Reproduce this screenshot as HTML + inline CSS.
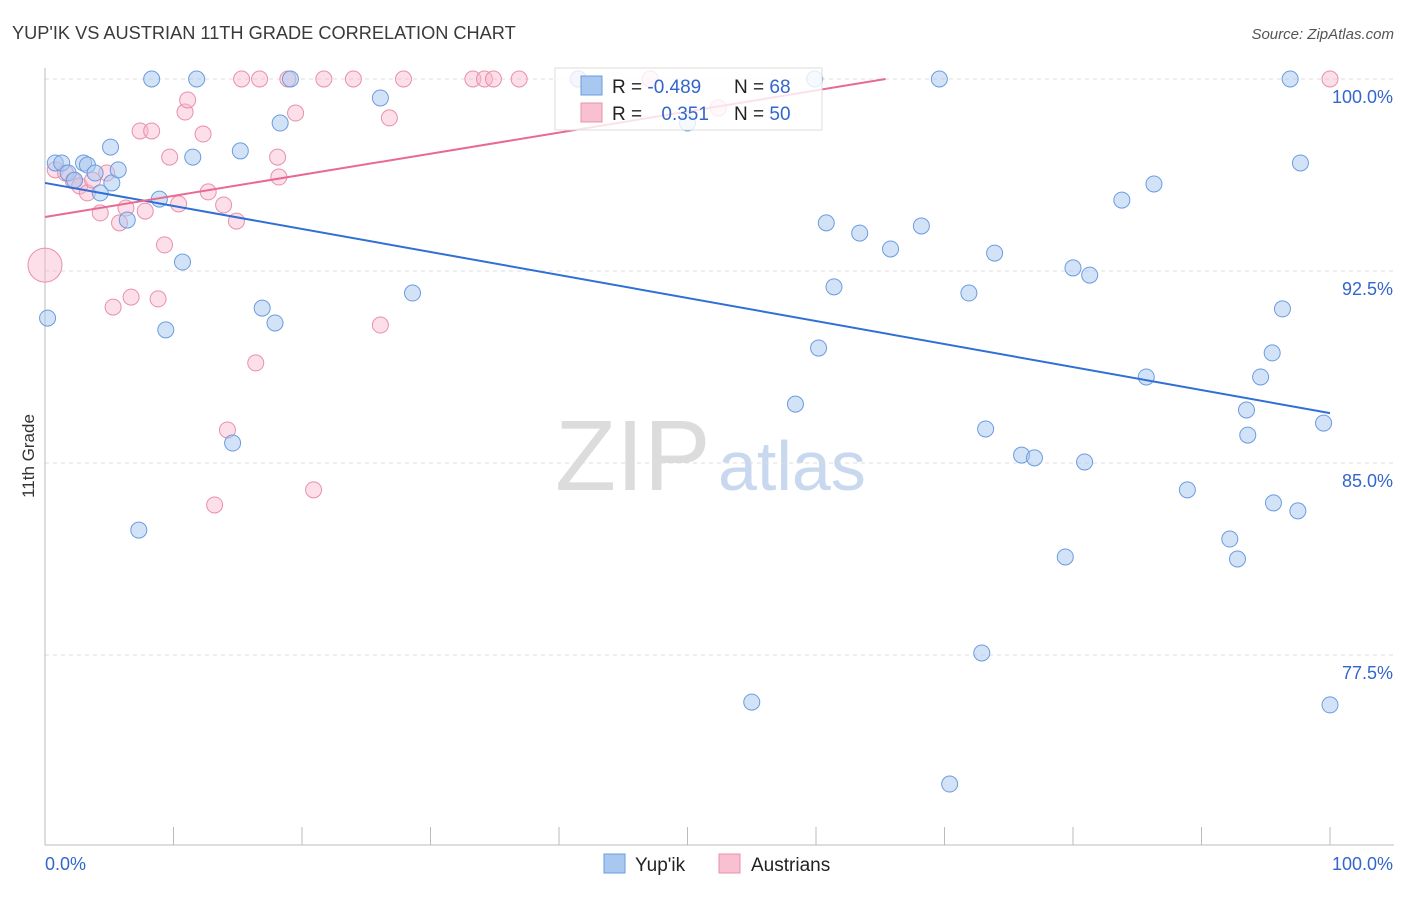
<!DOCTYPE html>
<html><head><meta charset="utf-8"><style>
body{margin:0;background:#fff;font-family:"Liberation Sans",sans-serif;}
svg text{font-family:"Liberation Sans",sans-serif;}
</style></head><body>
<svg id="c" width="1406" height="892">
<text x="12" y="39" font-size="18.2" fill="#3a3a3a">YUP'IK VS AUSTRIAN 11TH GRADE CORRELATION CHART</text>
<text x="1394" y="39" font-size="15" fill="#555" text-anchor="end" font-style="italic">Source: ZipAtlas.com</text>
<text x="34" y="456" font-size="17" fill="#333" transform="rotate(-90 34 456)" text-anchor="middle">11th Grade</text>
<text x="555" y="490" font-size="100" fill="#dcdcdc" font-family="Liberation Serif">ZIP</text>
<text x="718" y="490" font-size="70" fill="#c8d8ef">atlas</text>
<g id="grid"></g><g id="pts"></g><g id="lines"></g>
<g>
<rect x="555" y="68" width="267" height="62" fill="#fff" fill-opacity="0.8" stroke="#ddd"/>
<rect x="581" y="76" width="21" height="19" fill="#a8c8f0" stroke="#6b9be0"/>
<rect x="581" y="103" width="21" height="19" fill="#f8c0d0" stroke="#e890aa"/>
<text x="612" y="93" font-size="19" fill="#222">R = <tspan fill="#3366cc">-0.489</tspan></text>
<text x="734" y="93" font-size="19" fill="#222">N = <tspan fill="#3366cc">68</tspan></text>
<text x="612" y="120" font-size="19" fill="#222">R = <tspan fill="#3366cc" dx="14">0.351</tspan></text>
<text x="734" y="120" font-size="19" fill="#222">N = <tspan fill="#3366cc">50</tspan></text>
</g>
<g>
<rect x="604" y="854" width="21" height="19" fill="#a8c8f0" stroke="#6b9be0"/>
<text x="635" y="871" font-size="19" fill="#222">Yup'ik</text>
<rect x="719" y="854" width="21" height="19" fill="#f8c0d0" stroke="#e890aa"/>
<text x="751" y="871" font-size="19" fill="#222">Austrians</text>
</g>
</svg>
<script>
const blueX=[8.3,11.8,19.1,59.9,69.6,96.9,0.2,0.8,1.3,1.8,2.3,3.0,3.3,3.9,4.3,5.2,5.1,5.7,6.4,8.9,9.4,10.7,11.5,15.2,16.9,17.9,18.3,7.3,14.6,26.1,28.6,41.5,50.0,58.4,60.2,60.8,61.4,63.4,65.8,68.2,71.9,73.9,73.2,72.9,70.4,55.0,76.0,77.0,80.0,81.3,80.9,79.4,83.8,86.3,85.7,88.9,92.2,92.8,93.5,93.6,94.6,95.5,95.6,96.3,97.5,97.7,99.5,100];
const blueY=[100,100,100,100,100,100,90.66,96.72,96.72,96.33,96.05,96.72,96.64,96.33,95.55,95.94,97.34,96.45,94.49,95.31,90.20,92.85,96.95,97.19,91.05,90.47,98.28,82.38,85.78,99.26,91.64,100,98.28,87.30,89.49,94.38,91.88,93.98,93.36,94.26,91.64,93.20,86.33,77.58,72.46,75.66,85.31,85.20,92.62,92.34,85.04,81.33,95.27,95.90,88.36,83.95,82.03,81.25,87.07,86.09,88.36,89.30,83.44,91.02,83.13,96.72,86.56,75.55];
const pinkX=[0,0.8,1.6,2.2,2.7,3.3,3.7,4.3,4.8,5.3,5.8,6.3,6.7,7.4,7.8,8.3,8.8,9.3,9.7,10.4,10.9,11.1,12.3,12.7,13.2,13.9,14.2,14.9,15.3,16.4,16.7,18.1,18.2,18.9,19.5,20.9,21.7,24.0,26.1,26.8,27.9,33.3,34.2,34.9,36.9,41.5,47.1,52.4,100];
const pinkY=[92.73,96.45,96.33,96.02,95.82,95.55,96.05,94.77,96.33,91.09,94.38,94.96,91.48,97.97,94.84,97.97,91.41,93.52,96.95,95.12,98.71,99.18,97.85,95.59,83.36,95.08,86.29,94.45,100,88.91,100,96.95,96.17,100,98.67,83.95,100,100,90.39,98.48,100,100,100,100,100,100,100,98.87,100];
const yTicks=[100,92.5,85,77.5];
const yTickLabels=["100.0%","92.5%","85.0%","77.5%"];
const blueTrend=[95.94,86.95];
const pinkTrend=[94.61,0.0824];
const X=v=>45+v*12.85, Y=v=>79+(100-v)*25.6;
const ns="http://www.w3.org/2000/svg";
function mk(t,a,p){const e=document.createElementNS(ns,t);for(const k in a)e.setAttribute(k,a[k]);p.appendChild(e);return e;}
const grid=document.getElementById('grid');
yTicks.forEach((t,i)=>{
 const l=mk('line',{x1:45,x2:1394,y1:Y(t),y2:Y(t),stroke:'#ddd','stroke-dasharray':'4 4'},grid);
 
 
 const tx=mk('text',{x:1393,y:Y(t)+24,'font-size':18,fill:'#3366cc','text-anchor':'end'},grid);
 tx.textContent=yTickLabels[i];
 
 
});
const ax=mk('line',{x1:45,x2:1394,y1:845,y2:845,stroke:'#bbb'},grid);


const ay=mk('line',{x1:45,x2:45,y1:68,y2:845,stroke:'#bbb'},grid);


for(let i=0;i<=10;i++){const t=mk('line',{x1:X(i*10),x2:X(i*10),y1:827,y2:845,stroke:'#bbb'},grid);
 
 }
const xl0=mk('text',{x:45,y:870,'font-size':18,fill:'#3366cc'},grid);xl0.textContent='0.0%';


const xl1=mk('text',{x:1393,y:870,'font-size':18,fill:'#3366cc','text-anchor':'end'},grid);xl1.textContent='100.0%';


const pts=document.getElementById('pts');
pinkX.forEach((x,i)=>{const c=mk('circle',{cx:X(x),cy:Y(pinkY[i]),r:i===0?17:8,fill:'#f8b8cc','fill-opacity':0.45,stroke:'#e890aa','stroke-width':1},pts);
 
 });
blueX.forEach((x,i)=>{const c=mk('circle',{cx:X(x),cy:Y(blueY[i]),r:8,fill:'#a8c8f0','fill-opacity':0.5,stroke:'#6b9be0','stroke-width':1},pts);
 
 });
const lines=document.getElementById('lines');
const bl=mk('line',{x1:X(0),y1:Y(blueTrend[0]),x2:X(100),y2:Y(blueTrend[1]),stroke:'#2f6fd6','stroke-width':2},lines);


const xe=(100-pinkTrend[0])/pinkTrend[1];
const pl=mk('line',{x1:X(0),y1:Y(pinkTrend[0]),x2:X(xe),y2:Y(100),stroke:'#e86a92','stroke-width':2},lines);


</script>
</body></html>
